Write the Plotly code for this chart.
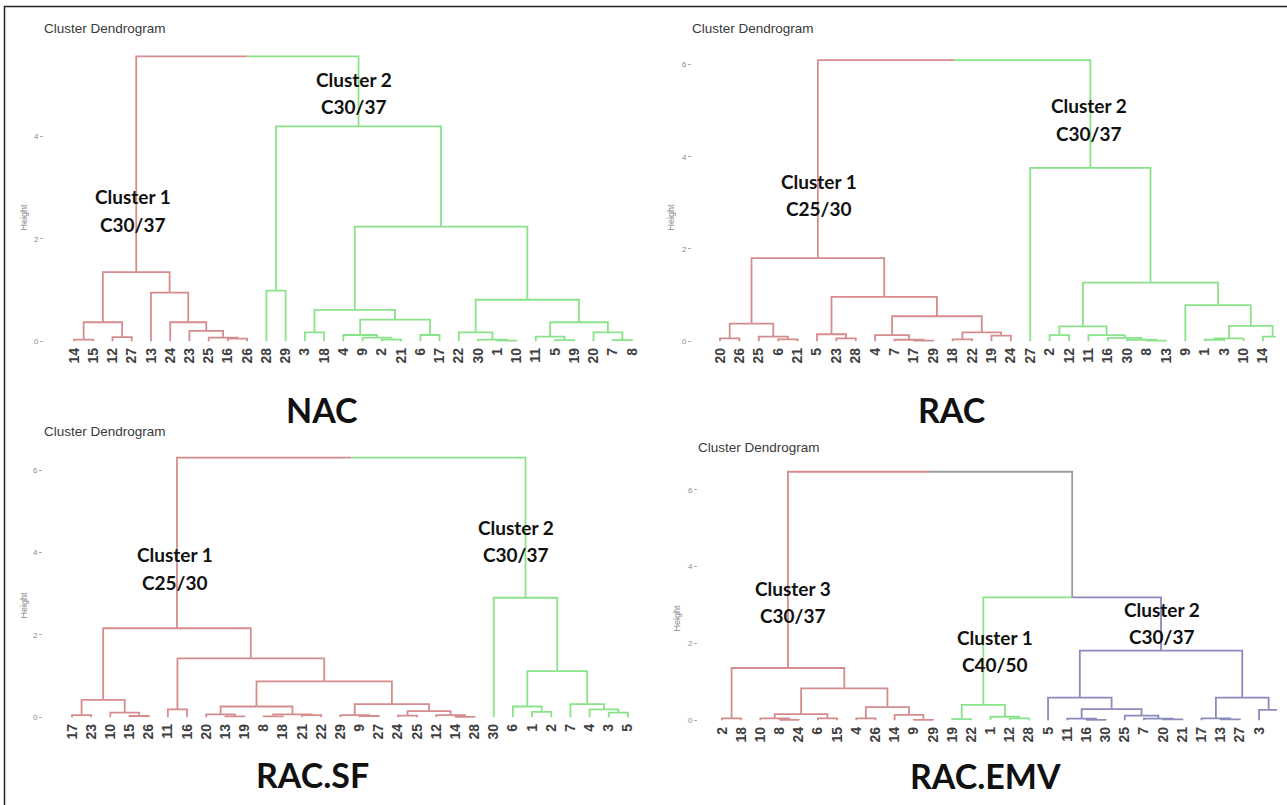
import plotly.graph_objects as go

W, H = 1287, 805

# ---------------- data ----------------
NAC_LEAVES = [14, 15, 12, 27, 13, 24, 23, 25, 16, 26, 28, 29, 3, 18, 4, 9, 2, 21, 6, 17,
              22, 30, 1, 10, 11, 5, 19, 20, 7, 8]
NAC_GROUP = [1, 1, 1, 1, 1, 1, 1, 1, 1, 1, 2, 2, 2, 2, 2, 2, 2, 2, 2, 2,
             2, 2, 2, 2, 2, 2, 2, 2, 2, 2]
NAC_MERGE = [(-14, -15), (-12, -27), (1, 2), (-16, -26), (-25, 4), (-23, 5), (-24, 6), (-13, 7),
             (3, 8), (-28, -29), (-3, -18), (-2, -21), (-9, 12), (-4, 13), (-6, -17), (14, 15),
             (11, 16), (-1, -10), (-30, 18), (-22, 19), (-5, -19), (-11, 21), (-7, -8), (-20, 23),
             (22, 24), (20, 25), (17, 26), (10, 27), (9, 28)]
NAC_HEIGHT = [0.03, 0.08, 0.37, 0.05, 0.07, 0.20, 0.37, 0.95, 1.35, 0.99, 0.17, 0.03, 0.07, 0.12,
              0.12, 0.42, 0.61, 0.01, 0.03, 0.17, 0.02, 0.09, 0.02, 0.17, 0.37, 0.81, 2.24, 4.20, 5.57]

RAC_LEAVES = [20, 26, 25, 6, 21, 5, 23, 28, 4, 7, 17, 29, 18, 22, 19, 24, 27, 2, 12, 11,
              16, 30, 8, 13, 9, 1, 3, 10, 14, 15]
RAC_GROUP = [1, 1, 1, 1, 1, 1, 1, 1, 1, 1, 1, 1, 1, 1, 1, 1, 2, 2, 2, 2,
             2, 2, 2, 2, 2, 2, 2, 2, 2, 2]
RAC_MERGE = [(-20, -26), (-6, -21), (-25, 2), (1, 3), (-23, -28), (-5, 5), (-17, -29), (-7, 7),
             (-4, 8), (-18, -22), (-19, -24), (10, 11), (9, 12), (6, 13), (4, 14), (-2, -12),
             (-8, -13), (-30, 17), (-16, 18), (-11, 19), (16, 20), (-1, -3), (22, -10), (-14, -15),
             (23, 24), (-9, 25), (21, 26), (-27, 27), (15, 28)]
RAC_HEIGHT = [0.06, 0.04, 0.10, 0.38, 0.06, 0.15, 0.01, 0.03, 0.13, 0.04, 0.12, 0.19, 0.54, 0.96,
              1.80, 0.13, 0.01, 0.03, 0.07, 0.13, 0.32, 0.03, 0.06, 0.10, 0.33, 0.78, 1.27, 3.76, 6.10]

SF_LEAVES = [17, 23, 10, 15, 26, 11, 16, 20, 13, 19, 8, 18, 21, 22, 29, 9, 27, 24, 25, 12,
             14, 28, 30, 6, 1, 2, 7, 4, 3, 5]
SF_GROUP = [1, 1, 1, 1, 1, 1, 1, 1, 1, 1, 1, 1, 1, 1, 1, 1, 1, 1, 1, 1,
            1, 1, 2, 2, 2, 2, 2, 2, 2, 2]
SF_MERGE = [(-17, -23), (-15, -26), (-10, 2), (1, 3), (-11, -16), (-13, -19), (-20, 6), (-8, -18),
            (-21, -22), (8, 9), (7, 10), (-9, -27), (-29, 12), (-24, -25), (-14, -28), (-12, 15),
            (14, 16), (13, 17), (11, 18), (5, 19), (4, 20), (-1, -2), (-6, 22), (-3, -5),
            (-4, 24), (-7, 25), (23, 26), (-30, 27), (21, 28)]
SF_HEIGHT = [0.05, 0.03, 0.11, 0.42, 0.19, 0.02, 0.07, 0.02, 0.05, 0.07, 0.26, 0.03, 0.05, 0.04,
             0.01, 0.05, 0.15, 0.32, 0.87, 1.43, 2.16, 0.13, 0.26, 0.11, 0.19, 0.32, 1.12, 2.90, 6.30]

EMV_LEAVES = [2, 18, 10, 8, 24, 6, 15, 4, 26, 14, 9, 29, 19, 22, 1, 12, 28, 5, 11, 16,
              30, 25, 7, 20, 21, 17, 13, 27, 3, 23]
EMV_GROUP = [3, 3, 3, 3, 3, 3, 3, 3, 3, 3, 3, 3, 1, 1, 1, 1, 1, 2, 2, 2,
             2, 2, 2, 2, 2, 2, 2, 2, 2, 2]
EMV_MERGE = [(-2, -18), (-8, -24), (-10, 2), (-6, -15), (3, 4), (-4, -26), (-9, -29), (-14, 7),
             (6, 8), (5, 9), (1, 10), (-19, -22), (-12, -28), (-1, 13), (12, 14), (-16, -30),
             (-11, 16), (-20, -21), (-7, 18), (-25, 19), (17, 20), (-5, 21), (-13, -27), (-17, 23),
             (-3, -23), (24, 25), (22, 26), (15, 27), (11, 28)]
EMV_HEIGHT = [0.05, 0.01, 0.05, 0.05, 0.16, 0.05, 0.01, 0.14, 0.34, 0.83, 1.36, 0.03, 0.05, 0.09,
              0.40, 0.01, 0.04, 0.02, 0.04, 0.12, 0.29, 0.59, 0.02, 0.05, 0.27, 0.59, 1.81, 3.20, 6.47]

RED, GREEN, BLUE, GREY = "#D68C8C", "#8AE28A", "#8A8ABC", "#9A9A9A"

PANELS = [
    dict(name="NAC", leaves=NAC_LEAVES, group=NAC_GROUP, merge=NAC_MERGE, height=NAC_HEIGHT,
         colors={1: RED, 2: GREEN}, ticks=[0, 2, 4],
         ax=44, leaf0=74, dx=19.24, right=650, zero=342, unit=51.25, top=40),
    dict(name="RAC", leaves=RAC_LEAVES, group=RAC_GROUP, merge=RAC_MERGE, height=RAC_HEIGHT,
         colors={1: RED, 2: GREEN}, ticks=[0, 2, 4, 6],
         ax=692, leaf0=720, dx=19.39, right=1276, zero=342, unit=46.2, top=40),
    dict(name="RAC.SF", leaves=SF_LEAVES, group=SF_GROUP, merge=SF_MERGE, height=SF_HEIGHT,
         colors={1: RED, 2: GREEN}, ticks=[0, 2, 4, 6],
         ax=43, leaf0=72, dx=19.17, right=650, zero=719, unit=41.3, top=440),
    dict(name="RAC.EMV", leaves=EMV_LEAVES, group=EMV_GROUP, merge=EMV_MERGE, height=EMV_HEIGHT,
         colors={3: RED, 1: GREEN, 2: BLUE}, ticks=[0, 2, 4, 6],
         ax=698, leaf0=722, dx=19.18, right=1277, zero=722, unit=38.5, top=455),
]


def dendro_segments(leaves, merge, height, group):
    pos = {lab: i for i, lab in enumerate(leaves)}
    grp = dict(zip(leaves, group))
    nodes = []

    def info(ref):
        if ref < 0:
            return (pos[-ref], 0.0, {grp[-ref]})
        return nodes[ref - 1]

    segs = []
    for (a, b), h in zip(merge, height):
        ia, ib = info(a), info(b)
        xm = (ia[0] + ib[0]) / 2.0
        for c in (ia, ib):
            key = next(iter(c[2])) if len(c[2]) == 1 else None
            segs.append((key, [c[0], c[0], xm], [c[1], h, h]))
        nodes.append((xm, h, ia[2] | ib[2]))
    return segs


fig = go.Figure()
layout = dict(width=W, height=H, margin=dict(l=0, r=0, t=0, b=0), autosize=False,
              paper_bgcolor="white", plot_bgcolor="white", showlegend=False)

for k, p in enumerate(PANELS, start=1):
    sfx = "" if k == 1 else str(k)
    segs = dendro_segments(p["leaves"], p["merge"], p["height"], p["group"])
    bycolor = {}
    for key, xs, ys in segs:
        col = p["colors"][key] if key is not None else GREY
        bx, by = bycolor.setdefault(col, ([], []))
        bx.extend(xs + [None])
        by.extend(ys + [None])
    for col, (bx, by) in bycolor.items():
        fig.add_trace(go.Scatter(x=bx, y=by, mode="lines", line=dict(color=col, width=1.8),
                                 hoverinfo="skip", xaxis="x" + sfx, yaxis="y" + sfx))
    n = len(p["leaves"])
    xr = [(p["ax"] - p["leaf0"]) / p["dx"], (p["right"] - p["leaf0"]) / p["dx"]]
    bpad = 3
    yr = [-bpad / p["unit"], (p["zero"] - p["top"]) / p["unit"]]
    layout["xaxis" + sfx] = dict(domain=[p["ax"] / W, p["right"] / W], range=xr,
                                 anchor="y" + sfx, showgrid=False, zeroline=False, showline=False,
                                 tickmode="array", tickvals=list(range(n)),
                                 ticktext=["<b>%d</b>" % v for v in p["leaves"]], tickangle=-90,
                                 ticks="", tickfont=dict(family="Liberation Sans", size=14, color="#404040"))
    layout["yaxis" + sfx] = dict(domain=[1 - (p["zero"] + bpad) / H, 1 - p["top"] / H], range=yr,
                                 anchor="x" + sfx, showgrid=False, zeroline=False, showline=False,
                                 tickmode="array", tickvals=p["ticks"], ticks="outside", ticklen=3,
                                 tickcolor="#aaaaaa", tickwidth=1,
                                 tickfont=dict(family="Liberation Sans", size=8, color="#8a8a8a"))

fig.update_layout(**layout)

ann = []


def txt(x, y, s, size, color="#111", family="Lato", bold=True, xanchor="center", angle=0):
    ann.append(dict(x=x / W, y=1 - y / H, xref="paper", yref="paper", text=("<b>%s</b>" % s) if bold else s,
                    showarrow=False, xanchor=xanchor, yanchor="middle", textangle=angle,
                    font=dict(family=family, size=size, color=color)))


# panel titles
for x, y in [(42, 29), (690, 29), (42, 433), (696, 449)]:
    txt(x, y, "Cluster Dendrogram", 13.5, color="#3a3a3a", family="Liberation Sans", bold=False, xanchor="left")
# "Height" axis titles
for x, y in [(24, 218), (671, 218), (24, 607), (677, 620)]:
    txt(x, y, "Height", 9, color="#8a8a8a", family="Liberation Sans", bold=False, angle=-90)

CLUSTER_TEXT = [
    (133, 197, "Cluster 1"), (133, 225, "C30/37"),
    (354, 80, "Cluster 2"), (354, 107, "C30/37"),
    (819, 182, "Cluster 1"), (819, 209, "C25/30"),
    (1089, 106, "Cluster 2"), (1089, 134, "C30/37"),
    (175, 556, "Cluster 1"), (175, 584, "C25/30"),
    (516, 529, "Cluster 2"), (516, 556, "C30/37"),
    (793, 590, "Cluster 3"), (793, 617, "C30/37"),
    (995, 639, "Cluster 1"), (995, 666, "C40/50"),
    (1162, 611, "Cluster 2"), (1162, 638, "C30/37"),
]
for x, y, s in CLUSTER_TEXT:
    txt(x, y, s, 19)

for x, y, s in [(322, 411, "NAC"), (952, 411, "RAC"), (312, 776, "RAC.SF"), (985, 777, "RAC.EMV")]:
    txt(x, y, s, 34)

fig.update_layout(annotations=ann)
fig.add_shape(type="rect", xref="paper", yref="paper", x0=4.5 / W, x1=1300 / W, y0=-0.05, y1=1 - 6.5 / H,
              line=dict(color="#222", width=1.5), fillcolor="rgba(0,0,0,0)", layer="above")

fig.write_html("out.html", config={"displayModeBar": False, "staticPlot": True},
               post_script="document.body.style.margin='0px';document.body.style.overflow='hidden';")
